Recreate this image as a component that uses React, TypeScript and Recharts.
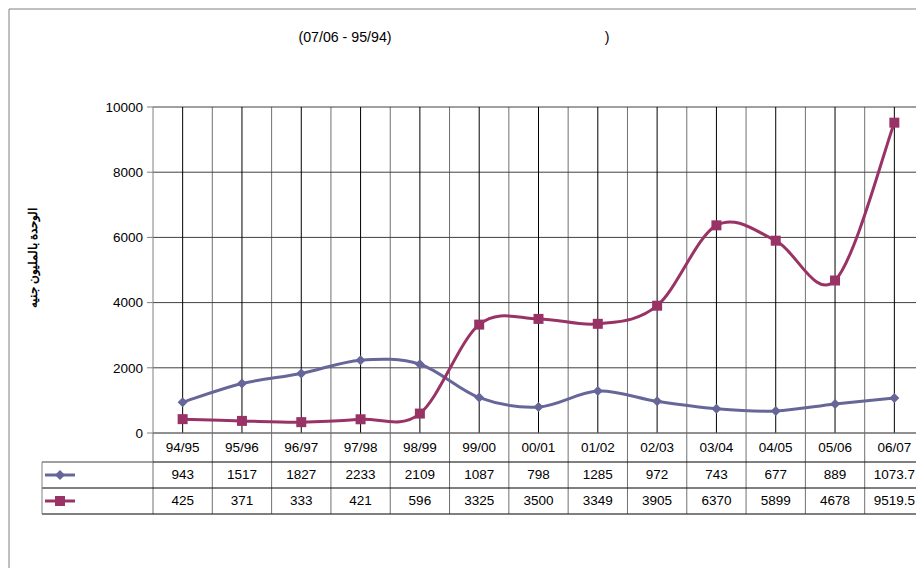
import React from 'react';
import { LineChart, Line, XAxis, YAxis, CartesianGrid } from 'recharts';

const years = ['94/95', '95/96', '96/97', '97/98', '98/99', '99/00', '00/01', '01/02', '02/03', '03/04', '04/05', '05/06', '06/07'];
const seriesA = [943, 1517, 1827, 2233, 2109, 1087, 798, 1285, 972, 743, 677, 889, 1073.7];
const seriesB = [425, 371, 333, 421, 596, 3325, 3500, 3349, 3905, 6370, 5899, 4678, 9519.5];
const yTicks = [0, 2000, 4000, 6000, 8000, 10000];

const data = years.map((year, i) => ({ year, a: seriesA[i], b: seriesB[i] }));

const BLUE = '#666699';
const PLUM = '#993366';
const FONT = '"Liberation Sans", Arial, sans-serif';
const FS = 13.5;

const W = 916;
const H = 560;
const LEFT = 145;
const TOP = 99;
const PLOT_BOTTOM = 425;
const PLOT_W = W - LEFT;
const COL = PLOT_W / years.length;
const ROW1 = 454;
const ROW2 = 480;
const ROW3 = 506;
const LEGEND_LEFT = 34;

// Excel-style smoothing: bezier through each point, control points at 1/6 of neighbour spread
const excelSmooth = (context: any) => {
  let pts: number[][] = [];
  return {
    areaStart() {},
    areaEnd() {},
    lineStart() {
      pts = [];
    },
    point(x: number, y: number) {
      pts.push([+x, +y]);
    },
    lineEnd() {
      if (!pts.length) return;
      context.moveTo(pts[0][0], pts[0][1]);
      for (let i = 0; i < pts.length - 1; i++) {
        const p0 = pts[Math.max(i - 1, 0)];
        const p1 = pts[i];
        const p2 = pts[i + 1];
        const p3 = pts[Math.min(i + 2, pts.length - 1)];
        context.bezierCurveTo(
          p1[0] + (p2[0] - p0[0]) / 6,
          p1[1] + (p2[1] - p0[1]) / 6,
          p2[0] - (p3[0] - p1[0]) / 6,
          p2[1] - (p3[1] - p1[1]) / 6,
          p2[0],
          p2[1]
        );
      }
    },
  };
};

const Diamond = ({ cx, cy }: any) => {
  if (cx == null || cy == null) return null;
  return <path d={`M${cx},${cy - 5}L${cx + 5},${cy}L${cx},${cy + 5}L${cx - 5},${cy}Z`} fill={BLUE} />;
};

const Square = ({ cx, cy }: any) => {
  if (cx == null || cy == null) return null;
  return <rect x={cx - 5} y={cy - 5} width={10} height={10} fill={PLUM} />;
};

const TableTick = ({ x, payload }: any) => {
  const i = payload.index;
  const l = x - COL / 2;
  const r = x + COL / 2;
  const txt = { fontFamily: FONT, fontSize: FS, fill: '#000', textAnchor: 'middle' as const };
  return (
    <g>
      <line x1={r} y1={PLOT_BOTTOM} x2={r} y2={ROW3} stroke="#707070" />
      {i === 0 && <line x1={l} y1={PLOT_BOTTOM} x2={l} y2={ROW3} stroke="#707070" />}
      <line x1={l} y1={ROW1} x2={r} y2={ROW1} stroke="#000" />
      <line x1={l} y1={ROW2} x2={r} y2={ROW2} stroke="#000" />
      <line x1={l} y1={ROW3} x2={r} y2={ROW3} stroke="#000" />
      <text x={x} y={444} {...txt}>{years[i]}</text>
      <text x={x} y={471} {...txt}>{seriesA[i]}</text>
      <text x={x} y={497} {...txt}>{seriesB[i]}</text>
      {i === 0 && (
        <g>
          <line x1={LEGEND_LEFT} y1={ROW1} x2={l} y2={ROW1} stroke="#808080" strokeWidth={1.5} />
          <line x1={LEGEND_LEFT} y1={ROW2} x2={l} y2={ROW2} stroke="#000" />
          <line x1={LEGEND_LEFT} y1={ROW3} x2={l} y2={ROW3} stroke="#000" />
          <line x1={LEGEND_LEFT} y1={ROW1} x2={LEGEND_LEFT} y2={ROW3} stroke="#808080" />
          <line x1={37} y1={467} x2={67} y2={467} stroke={BLUE} strokeWidth={3} />
          <Diamond cx={52} cy={467} />
          <line x1={37} y1={493} x2={67} y2={493} stroke={PLUM} strokeWidth={3} />
          <Square cx={52} cy={493} />
        </g>
      )}
    </g>
  );
};

const YLabel = () => (
  <text
    x={25}
    y={250}
    transform="rotate(-90 25 250)"
    textAnchor="middle"
    dominantBaseline="central"
    fontFamily={FONT}
    fontSize={12}
    fontWeight="bold"
    fill="#000"
  >
    الوحدة بالمليون جنيه
  </text>
);

const centers = ({ offset }: any) =>
  years.map((_, i) => offset.left + (i + 0.5) * (offset.width / years.length));
const bounds = ({ offset }: any) =>
  years.map((_, i) => offset.left + (i + 1) * (offset.width / years.length));

export default function App() {
  return (
    <div style={{ position: 'relative', width: W, height: H, overflow: 'hidden' }}>
      <LineChart width={W} height={H} data={data} margin={{ top: TOP, right: 0, bottom: 35, left: 85 }}>
        <CartesianGrid horizontal={false} verticalCoordinatesGenerator={bounds} stroke="#707070" />
        <CartesianGrid vertical={false} stroke="#404040" />
        <CartesianGrid horizontal={false} verticalCoordinatesGenerator={centers} stroke="#000" />
        <XAxis
          dataKey="year"
          scale="band"
          interval={0}
          height={100}
          tickLine={false}
          axisLine={{ stroke: '#808080' }}
          tick={<TableTick />}
        />
        <YAxis
          width={60}
          domain={[0, 10000]}
          ticks={yTicks}
          tickSize={6}
          tickMargin={4}
          axisLine={{ stroke: '#808080' }}
          tickLine={{ stroke: '#808080' }}
          tick={{ fontFamily: FONT, fontSize: FS, fill: '#000' }}
          label={{ content: () => <YLabel /> }}
        />
        <Line
          dataKey="a"
          type={excelSmooth as any}
          stroke={BLUE}
          strokeWidth={3}
          dot={<Diamond />}
          activeDot={false}
          isAnimationActive={false}
        />
        <Line
          dataKey="b"
          type={excelSmooth as any}
          stroke={PLUM}
          strokeWidth={3}
          dot={<Square />}
          activeDot={false}
          isAnimationActive={false}
        />
      </LineChart>
      <svg width={W} height={H} style={{ position: 'absolute', left: 0, top: 0, pointerEvents: 'none' }}>
        <line x1={1} y1={1} x2={W} y2={1} stroke="#808080" />
        <line x1={1} y1={1} x2={1} y2={H} stroke="#808080" />
        <text x={337} y={34} textAnchor="middle" fontFamily={FONT} fontSize={14.2} fill="#000">
          (07/06 - 95/94)
        </text>
        <text x={599} y={34} textAnchor="middle" fontFamily={FONT} fontSize={14.2} fill="#000">
          )
        </text>
      </svg>
    </div>
  );
}
